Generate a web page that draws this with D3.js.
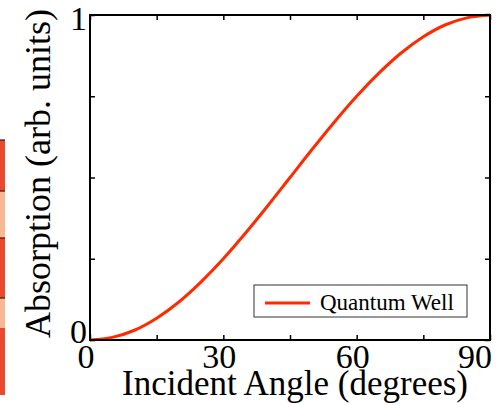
<!DOCTYPE html>
<html>
<head>
<meta charset="utf-8">
<script src="https://cdn.jsdelivr.net/npm/d3@7"></script>
<style>
  body { margin: 0; background: #fff; }
  svg text { font-family: "Liberation Serif", "DejaVu Serif", serif; fill: #000; }
</style>
</head>
<body>
<div id="chart"></div>
<script>
// Values
const angles = [0, 5, 10, 15, 20, 25, 30, 35, 40, 45, 50, 55, 60, 65, 70, 75, 80, 85, 90];
const absorption = [0, 0.008, 0.03, 0.067, 0.117, 0.179, 0.25, 0.329, 0.413, 0.5, 0.587, 0.671, 0.75, 0.821, 0.883, 0.933, 0.97, 0.992, 1];
const xTickLabels = [0, 30, 60, 90];
const yTickLabels = [0, 1];
const seriesName = "Quantum Well";

// Strip at the far left edge (cut-off neighbour figure)
const stripBlocks = [
    { y0: 140, y1: 191, color: "#e8492f" },
    { y0: 191, y1: 238, color: "#f9b894" },
    { y0: 238, y1: 298, color: "#e8492f" },
    { y0: 298, y1: 328, color: "#f9b894" },
    { y0: 328, y1: 395, color: "#e8492f" }
];

const width = 498;
const height = 405;
const margin = { top: 15, right: 8, bottom: 65, left: 90 };
const plotW = width - margin.left - margin.right;
const plotH = height - margin.top - margin.bottom;
const lineColor = "#ff2a00";
const serif = "'Liberation Serif', 'DejaVu Serif', serif";

const svg = d3.select("#chart")
    .append("svg")
    .attr("width", width)
    .attr("height", height);

// left strip
const strip = svg.append("g");
strip.selectAll("rect")
    .data(stripBlocks)
    .enter()
    .append("rect")
    .attr("x", 0)
    .attr("y", d => d.y0)
    .attr("width", 5)
    .attr("height", d => d.y1 - d.y0)
    .attr("fill", d => d.color);
strip.selectAll("line")
    .data(stripBlocks.slice(0, -1))
    .enter()
    .append("line")
    .attr("x1", 0).attr("x2", 5)
    .attr("y1", d => d.y0).attr("y2", d => d.y0)
    .attr("stroke", "#3a1a10")
    .attr("stroke-width", 1.2);

const g = svg.append("g")
    .attr("transform", `translate(${margin.left},${margin.top})`);

const x = d3.scaleLinear().domain([0, 90]).range([0, plotW]);
const y = d3.scaleLinear().domain([0, 1]).range([plotH, 0]);

// inward ticks on all four sides
const xTicks = d3.range(0, 91, 15);
const yTicks = [0, 0.25, 0.5, 0.75, 1];
const tickLen = 5;

function styleAxis(sel) {
    sel.select(".domain").remove();
    sel.selectAll(".tick line").attr("stroke", "#000").attr("stroke-width", 1.5);
    sel.selectAll(".tick text").remove();
}

g.append("g")
    .attr("transform", `translate(0,${plotH})`)
    .call(d3.axisBottom(x).tickValues(xTicks).tickSize(-tickLen))
    .call(styleAxis);
g.append("g")
    .call(d3.axisTop(x).tickValues(xTicks).tickSize(-tickLen))
    .call(styleAxis);
g.append("g")
    .call(d3.axisLeft(y).tickValues(yTicks).tickSize(-tickLen))
    .call(styleAxis);
g.append("g")
    .attr("transform", `translate(${plotW},0)`)
    .call(d3.axisRight(y).tickValues(yTicks).tickSize(-tickLen))
    .call(styleAxis);

// tick labels (last one kept inside the page edge)
g.selectAll(".xlab")
    .data(xTickLabels)
    .enter()
    .append("text")
    .attr("class", "xlab")
    .attr("x", d => Math.min(x(d) - 4, plotW - 15))
    .attr("y", plotH + 28)
    .attr("text-anchor", "middle")
    .attr("font-family", serif)
    .attr("font-size", 34)
    .text(d => d);

g.selectAll(".ylab")
    .data(yTickLabels)
    .enter()
    .append("text")
    .attr("class", "ylab")
    .attr("x", -3)
    .attr("y", d => y(d) + (d === 0 ? 3 : 15))
    .attr("text-anchor", "end")
    .attr("font-family", serif)
    .attr("font-size", 34)
    .text(d => d);

// curve
const line = d3.line()
    .x((d, i) => x(angles[i]))
    .y(d => y(d))
    .curve(d3.curveMonotoneX);

g.append("path")
    .datum(absorption)
    .attr("fill", "none")
    .attr("stroke", lineColor)
    .attr("stroke-width", 3)
    .attr("d", line);

// frame
g.append("rect")
    .attr("width", plotW)
    .attr("height", plotH)
    .attr("fill", "none")
    .attr("stroke", "#000")
    .attr("stroke-width", 2);

// axis titles
svg.append("text")
    .attr("x", 295)
    .attr("y", 395)
    .attr("text-anchor", "middle")
    .attr("font-family", serif)
    .attr("font-size", 35)
    .text("Incident Angle (degrees)");

svg.append("text")
    .attr("transform", `translate(50,${margin.top + plotH / 2 - 4}) rotate(-90)`)
    .attr("text-anchor", "middle")
    .attr("font-family", serif)
    .attr("font-size", 36)
    .text("Absorption (arb. units)");

// legend
const legend = svg.append("g").attr("transform", "translate(254,285)");
legend.append("rect")
    .attr("width", 213)
    .attr("height", 32)
    .attr("fill", "#fff")
    .attr("stroke", "#333")
    .attr("stroke-width", 1);
legend.append("line")
    .attr("x1", 11).attr("x2", 56)
    .attr("y1", 18).attr("y2", 18)
    .attr("stroke", lineColor)
    .attr("stroke-width", 3);
legend.append("text")
    .attr("x", 66)
    .attr("y", 25)
    .attr("font-family", serif)
    .attr("font-size", 23)
    .text(seriesName);
</script>
</body>
</html>
